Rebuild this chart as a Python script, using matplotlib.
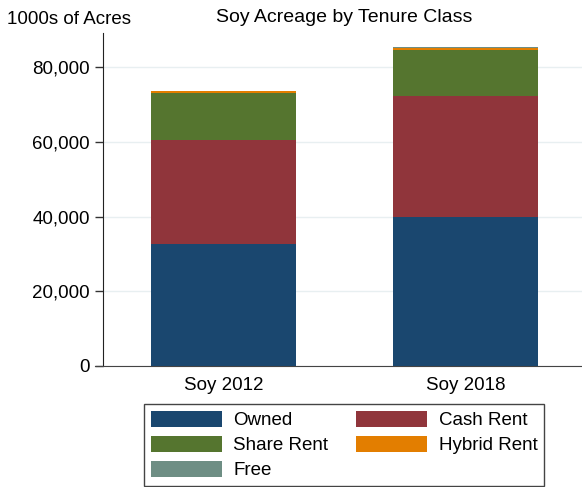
import matplotlib
matplotlib.use("Agg")
import matplotlib.pyplot as plt
import numpy as np

plt.rcParams['font.family'] = ['Liberation Sans', 'DejaVu Sans']

# === DATA (1000s of acres) ===
categories = ["Soy 2012", "Soy 2018"]
owned = [32600, 39900]
cash_rent = [27900, 32400]
share_rent = [12600, 12300]
hybrid_rent = [350, 500]
free = [150, 200]
yticks = [0, 20000, 40000, 60000, 80000]

series = [
    ("Owned", owned, "#1a476f"),
    ("Cash Rent", cash_rent, "#90353b"),
    ("Share Rent", share_rent, "#55752f"),
    ("Hybrid Rent", hybrid_rent, "#e37e00"),
    ("Free", free, "#6e8e84"),
]

# === FIGURE ===
fig = plt.figure(figsize=(5.82, 4.87), dpi=100)
ax = fig.add_axes([103 / 582, 1 - 366 / 487, 479 / 582, 333 / 487])

x = np.arange(len(categories))
bottom = np.zeros(len(categories))
handles = {}
for name, vals, color in series:
    h = ax.bar(x, vals, width=0.6, bottom=bottom, color=color, label=name,
               linewidth=0, zorder=3)
    handles[name] = h
    bottom += np.array(vals)

ax.set_xlim(-0.498, 1.48)
ax.set_ylim(0, 89100)
ax.set_yticks(yticks)
ax.set_yticklabels([f"{v:,}" for v in yticks])
ax.set_xticks(x)
ax.set_xticklabels(categories)
ax.tick_params(axis='x', length=0, pad=8, labelsize=13.5)
ax.tick_params(axis='y', length=6, width=1, labelsize=13.5, color='#333333')
ax.yaxis.grid(True, color='#e8eff1', linewidth=1, zorder=0)
ax.set_axisbelow(True)

for side in ['top', 'right']:
    ax.spines[side].set_visible(False)
ax.spines['left'].set_color('#222222')
ax.spines['bottom'].set_color('#444444')
ax.spines['bottom'].set_bounds(-0.53, 1.48)

fig.text(344 / 582, 1 - 17 / 487, "Soy Acreage by Tenure Class", ha='center', va='center', fontsize=14)
fig.text(7 / 582, 1 - 20 / 487, "1000s of Acres", ha='left', va='center', fontsize=13.5)

# legend fills column-first, so order gives rows Owned/Cash, Share/Hybrid, Free
order = ["Owned", "Share Rent", "Free", "Cash Rent", "Hybrid Rent"]
leg = fig.legend([handles[n] for n in order], order, ncol=2, loc='lower center',
                 bbox_to_anchor=(344 / 582, 0.002), borderaxespad=0, fontsize=13.5,
                 handlelength=3.8, handleheight=1.0, handletextpad=0.6,
                 columnspacing=1.5, labelspacing=0.33, fancybox=False,
                 edgecolor='#444444', framealpha=1, borderpad=0.35)
leg.get_frame().set_linewidth(1.0)

fig.savefig("out.png", dpi=100)
